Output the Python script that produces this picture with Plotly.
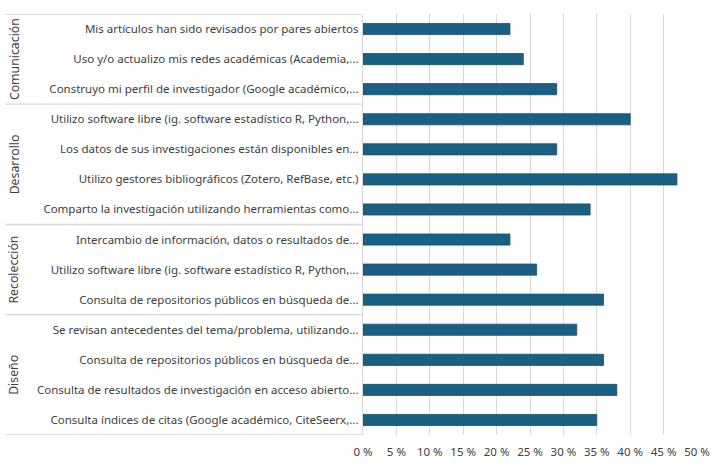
import plotly.graph_objects as go

# Data (top to bottom as shown)
groups = ["Comunicación", "Desarrollo", "Recolección", "Diseño"]
group_sizes = [3, 4, 3, 4]
labels = [
    "Mis artículos han sido revisados por pares abiertos",
    "Uso y/o actualizo mis redes académicas (Academia,...",
    "Construyo mi perfil de investigador (Google académico,...",
    "Utilizo software libre (ig. software estadístico R, Python,...",
    "Los datos de sus investigaciones están disponibles en...",
    "Utilizo gestores bibliográficos (Zotero, RefBase, etc.)",
    "Comparto la investigación utilizando herramientas como...",
    "Intercambio de información, datos o resultados de...",
    "Utilizo software libre (ig. software estadístico R, Python,...",
    "Consulta de repositorios públicos en búsqueda de...",
    "Se revisan antecedentes del tema/problema, utilizando...",
    "Consulta de repositorios públicos en búsqueda de...",
    "Consulta de resultados de investigación en acceso abierto...",
    "Consulta índices de citas (Google académico, CiteSeerx,...",
]
values = [22, 24, 29, 40, 29, 47, 34, 22, 26, 36, 32, 36, 38, 35]
x_ticks = list(range(0, 51, 5))

positions = list(range(len(labels)))
FONT = "Noto Sans"
TXT = "#404040"
GRID = "#d9d9d9"

fig = go.Figure()
fig.add_trace(go.Bar(
    x=values, y=positions, orientation="h",
    marker=dict(color="#1B5F82", line=dict(color="#16506D", width=0.8)),
    width=0.37, hoverinfo="x+y",
))

# left edge of label area in paper coords
L, R = 363, 697
left_edge = (5 - L) / (R - L)
label_x = (14 - L) / (R - L)

shapes = []
annotations = []
start = 0
bounds = [-0.5]
for g, n in zip(groups, group_sizes):
    end = start + n
    bounds.append(end - 0.5)
    annotations.append(dict(
        x=label_x, xref="paper", y=(start + end - 1) / 2, yref="y",
        text=g, textangle=-90, showarrow=False,
        font=dict(family=FONT, size=12.3, color=TXT),
        xanchor="center", yanchor="middle",
    ))
    start = end
for b in bounds:
    shapes.append(dict(type="line", xref="paper", yref="y",
                       x0=left_edge, x1=0, y0=b, y1=b,
                       line=dict(color=GRID, width=1.3)))

fig.update_layout(
    width=722, height=465,
    margin=dict(l=L, r=722 - R, t=14, b=30),
    plot_bgcolor="white", paper_bgcolor="white",
    showlegend=False,
    shapes=shapes, annotations=annotations,
    font=dict(family=FONT, size=11.5, color=TXT),
    xaxis=dict(range=[0, 50], tickvals=x_ticks,
               ticktext=[f"{t} %" for t in x_ticks],
               showgrid=True, gridcolor=GRID, gridwidth=1.3,
               zeroline=False, showline=False, ticks="",
               ticklabelstandoff=8, automargin=False,
               tickfont=dict(family=FONT, size=11.5, color=TXT)),
    yaxis=dict(range=[13.5, -0.5], tickvals=positions, ticktext=labels,
               showgrid=False, zeroline=False, showline=True,
               linecolor=GRID, linewidth=1.3, ticks="",
               ticklabelstandoff=1, automargin=False,
               tickfont=dict(family=FONT, size=11.5, color=TXT)),
)

fig.write_html("out.html", config={"displayModeBar": False},
               post_script="document.body.style.margin='0';document.body.style.padding='0';")
